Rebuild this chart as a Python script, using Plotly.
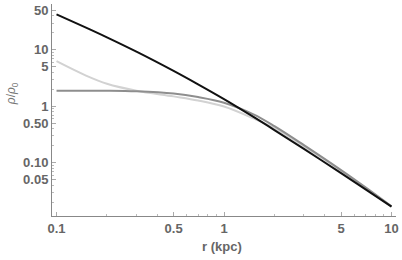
import plotly.graph_objects as go

r = [0.1, 0.15, 0.2, 0.3, 0.5, 0.7, 1.0, 1.5, 2.0, 3.0, 5.0, 7.0, 10.0]
rho_black = [42.6, 24.8, 16.7, 9.31, 4.24, 2.45, 1.34, 0.647, 0.379, 0.176, 0.0653, 0.0337, 0.0166]
rho_light = [6.3, 3.5, 2.51, 1.89, 1.5, 1.27, 0.99, 0.61, 0.41, 0.195, 0.072, 0.0355, 0.0167]
rho_mid = [1.89, 1.89, 1.885, 1.84, 1.68, 1.46, 1.16, 0.72, 0.445, 0.205, 0.074, 0.0365, 0.0168]

x_ticks = [0.1, 0.5, 1, 5, 10]
x_ticklabels = ["0.1", "0.5", "1", "5", "10"]
y_ticks = [0.05, 0.1, 0.5, 1, 5, 10, 50]
y_ticklabels = ["0.05", "0.10", "0.50", "1", "5", "10", "50"]

fig = go.Figure()
fig.add_trace(go.Scatter(x=r, y=rho_light, mode="lines", line=dict(color="#d2d2d2", width=2, shape="spline")))
fig.add_trace(go.Scatter(x=r, y=rho_mid, mode="lines", line=dict(color="#8e8e8e", width=2, shape="spline")))
fig.add_trace(go.Scatter(x=r, y=rho_black, mode="lines", line=dict(color="#111111", width=2, shape="spline")))

FONT = "Liberation Sans, Arial"
tickfont = dict(family=FONT, size=13, color="#666666", weight="bold")
fig.update_layout(
    width=402, height=260,
    margin=dict(l=52, r=6, t=4, b=44, autoexpand=False),
    paper_bgcolor="white", plot_bgcolor="white",
    showlegend=False,
    xaxis=dict(type="log", range=[-1.027, 1.027], tickvals=x_ticks, ticktext=x_ticklabels,
               ticks="inside", ticklen=4, tickcolor="#aaaaaa", showgrid=False, zeroline=False,
               showline=True, linecolor="#888888", linewidth=1, tickfont=tickfont, automargin=False,
               minor=dict(ticks="inside", ticklen=2, tickcolor="#bbbbbb",
                          tickvals=[0.2, 0.3, 0.4, 0.6, 0.7, 0.8, 0.9, 2, 3, 4, 6, 7, 8, 9])),
    yaxis=dict(type="log", range=[-1.945, 1.814], tickvals=y_ticks, ticktext=y_ticklabels,
               ticks="inside", ticklen=4, tickcolor="#aaaaaa", showgrid=False, zeroline=False,
               showline=True, linecolor="#888888", linewidth=1, tickfont=tickfont, automargin=False,
               minor=dict(ticks="inside", ticklen=2, tickcolor="#bbbbbb",
                          tickvals=[0.02, 0.03, 0.04, 0.06, 0.07, 0.08, 0.09, 0.2, 0.3, 0.4, 0.6, 0.7, 0.8, 0.9,
                                    2, 3, 4, 6, 7, 8, 9, 20, 30, 40])),
)
fig.add_annotation(text="r (kpc)", xref="paper", yref="paper", x=0.494, y=0, yanchor="middle", yshift=-30,
                   showarrow=False, font=dict(family=FONT, size=13, color="#666666", weight="bold"))
fig.add_annotation(text="<i>ρ</i>/<i>ρ</i><sub>0</sub>", xref="paper", yref="paper", x=-0.145, y=0.575,
                   showarrow=False, textangle=-90, font=dict(family=FONT, size=12, color="#777777"))
fig.write_html("out.html", config={"displayModeBar": False},
               post_script="document.body.style.margin='0';document.body.style.padding='0';")
